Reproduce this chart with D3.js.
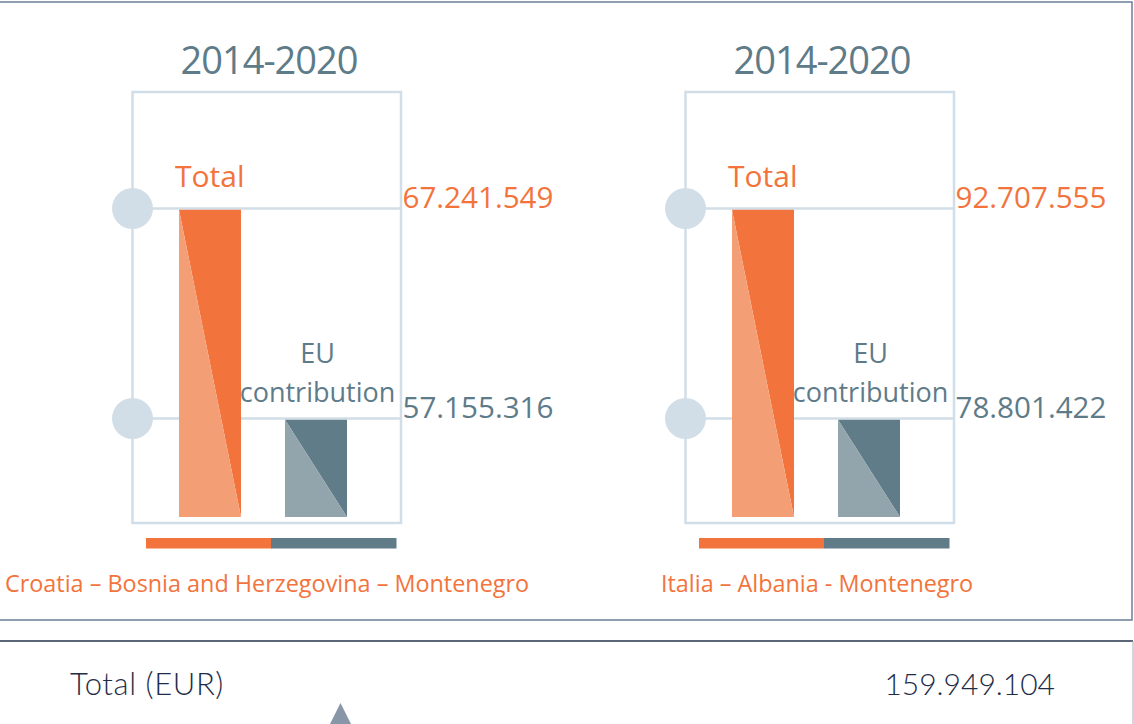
<!DOCTYPE html>
<html>
<head>
<meta charset="utf-8">
<script src="https://cdn.jsdelivr.net/npm/d3@7"></script>
<style>
  html, body { margin: 0; padding: 0; background: #ffffff; }
  svg { display: block; }
</style>
</head>
<body>
<svg id="chart" width="1134" height="724"></svg>
<script>
// ---- data ----
const regions = ["Croatia – Bosnia and Herzegovina – Montenegro", "Italia – Albania - Montenegro"];
const periods = ["2014-2020", "2014-2020"];
const series = ["Total", "EU contribution"];
const totalValues = [67241549, 92707555];
const euValues = [57155316, 78801422];
const grandTotalLabel = "Total (EUR)";
const grandTotal = 159949104;

// ---- styles ----
const C = {
  orange: "#f2743c", orangeLight: "#f49e76",
  slate: "#607c89", slateLight: "#92a4ac",
  grid: "#d2dee7", title: "#5e7b89",
  frame: "#6b7f96", dark: "#25334a", darkText: "#1f2d48", pointer: "#8896a8"
};
const FONT = "'Open Sans', 'Noto Sans', sans-serif";

const fmt = d3.formatLocale({ decimal: ",", thousands: ".", grouping: [3], currency: ["", ""] }).format(",d");

const svg = d3.select("#chart");

// outer frames
svg.append("rect").attr("x", -3).attr("y", 2).attr("width", 1135).attr("height", 618)
  .attr("fill", "none").attr("stroke", C.frame).attr("stroke-width", 1.5);
svg.append("line").attr("x1", 0).attr("x2", 1133).attr("y1", 641).attr("y2", 641)
  .attr("stroke", C.dark).attr("stroke-width", 1.5);
svg.append("line").attr("x1", 1133).attr("x2", 1133).attr("y1", 641).attr("y2", 724)
  .attr("stroke", "#b4bac3").attr("stroke-width", 1.2);

// scales
const panelX = d3.scaleBand().domain(regions).range([0, 1106]);
const barX = d3.scaleBand().domain(series).range([179, 347]).paddingInner(44 / 106).paddingOuter(0);
const levelY = d3.scaleOrdinal().domain(["base", "EU contribution", "Total"]).range([517, 418.5, 208.5]);
const legendX = d3.scaleBand().domain(series).range([146, 396]);
const fill = d3.scaleOrdinal().domain(series).range([C.orange, C.slate]);
const fillLight = d3.scaleOrdinal().domain(series).range([C.orangeLight, C.slateLight]);
const labelColor = d3.scaleOrdinal().domain(series).range([C.orange, C.title]);

const panelData = regions.map((r, i) => ({
  region: r, period: periods[i],
  bars: [
    { key: "Total", value: totalValues[i] },
    { key: "EU contribution", value: euValues[i] }
  ]
}));

const panels = svg.selectAll("g.panel").data(panelData).join("g")
  .attr("class", "panel")
  .attr("transform", d => `translate(${panelX(d.region)},0)`);

// title
panels.append("text").attr("x", 269).attr("y", 74)
  .attr("text-anchor", "middle").attr("font-family", FONT).attr("font-size", 38)
  .attr("letter-spacing", -1).attr("fill", C.title).text(d => d.period);

// inner box
const boxL = 132.5, boxR = 401, boxT = 92, boxB = 523;
panels.append("rect").attr("x", boxL).attr("y", boxT).attr("width", boxR - boxL).attr("height", boxB - boxT)
  .attr("fill", "none").attr("stroke", C.grid).attr("stroke-width", 2.5);

// level lines + circles
panels.each(function (d) {
  const g = d3.select(this);
  g.selectAll("line.level").data(d.bars).join("line").attr("class", "level")
    .attr("x1", boxL).attr("x2", boxR)
    .attr("y1", b => levelY(b.key)).attr("y2", b => levelY(b.key))
    .attr("stroke", C.grid).attr("stroke-width", 2.5);
  g.selectAll("circle.level").data(d.bars).join("circle").attr("class", "level")
    .attr("cx", boxL).attr("cy", b => levelY(b.key)).attr("r", 20.5)
    .attr("fill", C.grid);

  // bars as two triangles
  const bw = barX.bandwidth();
  const base = levelY("base");
  d.bars.forEach(b => {
    const x0 = barX(b.key), x1 = x0 + bw, y0 = levelY(b.key) + 1.3;
    g.append("path").attr("d", `M${x0},${y0}L${x1},${y0}L${x1},${base}Z`).attr("fill", fill(b.key));
    g.append("path").attr("d", `M${x0},${y0}L${x1},${base}L${x0},${base}Z`).attr("fill", fillLight(b.key));
  });

  // series labels
  g.append("text").attr("x", 175).attr("y", levelY("Total") - 21.5)
    .attr("font-family", FONT).attr("font-size", 30).attr("fill", C.orange).text("Total");
  const euC = barX("EU contribution") + bw / 2 + 1.5;
  g.append("text").attr("x", euC).attr("y", levelY("EU contribution") - 56)
    .attr("text-anchor", "middle").attr("font-family", FONT).attr("font-size", 27).attr("fill", C.title).text("EU");
  g.append("text").attr("x", euC).attr("y", levelY("EU contribution") - 17)
    .attr("text-anchor", "middle").attr("font-family", FONT).attr("font-size", 27).attr("fill", C.title).text("contribution");

  // value labels
  g.selectAll("text.value").data(d.bars).join("text").attr("class", "value")
    .attr("x", 402.5).attr("y", b => levelY(b.key) - 1)
    .attr("font-family", FONT).attr("font-size", 29.6)
    .attr("fill", b => labelColor(b.key)).text(b => fmt(b.value));

  // legend bar
  g.selectAll("rect.legend").data(series).join("rect").attr("class", "legend")
    .attr("x", s => legendX(s)).attr("y", 538).attr("width", legendX.bandwidth() + 0.5).attr("height", 10.5)
    .attr("fill", s => fill(s));
});

// region names
svg.selectAll("text.region").data(panelData).join("text").attr("class", "region")
  .attr("x", (d, i) => i === 0 ? 5 : panelX(d.region) + 108)
  .attr("y", 592).attr("font-family", FONT).attr("font-size", 23.4)
  .attr("fill", C.orange).text(d => d.region);

// bottom summary
svg.append("text").attr("x", 70).attr("y", 695).attr("font-family", "Lato, 'DejaVu Sans', sans-serif")
  .attr("font-size", 31).attr("font-weight", 300).attr("letter-spacing", 0.6).attr("fill", C.darkText).text(grandTotalLabel);
svg.append("text").attr("x", 1055).attr("y", 695).attr("text-anchor", "end").attr("font-family", "Lato, 'DejaVu Sans', sans-serif")
  .attr("font-size", 30).attr("font-weight", 300).attr("fill", C.darkText).text(fmt(grandTotal));
svg.append("path").attr("d", "M340.5,703L352,726L329,726Z").attr("fill", C.pointer);
</script>
</body>
</html>
